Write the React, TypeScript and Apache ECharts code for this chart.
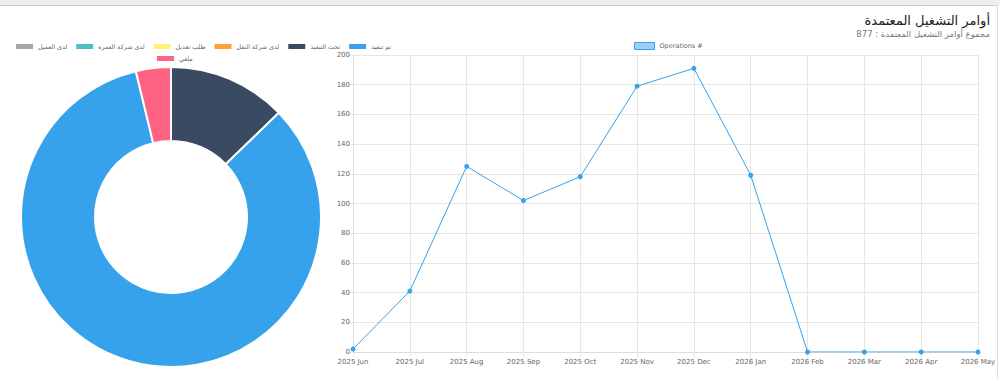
import React, { useEffect, useRef } from "react";
import * as echarts from "echarts";

const title = "أوامر التشغيل المعتمدة";
const subtitle = "مجموع أوامر التشغيل المعتمدة : 877";

const statusNames = [
  "لدى العميل",
  "لدى شركة العمرة",
  "طلب تعديل",
  "لدى شركة النقل",
  "تحت التنفيذ",
  "تم تنفيذ",
  "ملغي",
];
const statusValues = [0, 0, 0, 0, 112, 732, 33];
const statusColors = ["#a4a7ab", "#4bc0c0", "#fff27a", "#ff9f40", "#3b4a63", "#36a2eb", "#ff6384"];

const months = [
  "2025 Jun", "2025 Jul", "2025 Aug", "2025 Sep", "2025 Oct", "2025 Nov",
  "2025 Dec", "2026 Jan", "2026 Feb", "2026 Mar", "2026 Apr", "2026 May",
];
const operations = [2, 41, 125, 102, 118, 179, 191, 119, 0, 0, 0, 0];
const lineName = "Operations #";

export default function App() {
  const ref = useRef<HTMLDivElement>(null);
  useEffect(() => {
    if (!ref.current) return;
    const chart = echarts.init(ref.current, null, { renderer: "svg" });
    const font = "DejaVu Sans";
    chart.setOption({
      animation: false,
      textStyle: { fontFamily: font },
      graphic: [
        { type: "rect", shape: { x: 0, y: 0, width: 1000, height: 5 }, style: { fill: "#eeeeee" }, silent: true },
        { type: "line", shape: { x1: 0, y1: 5.5, x2: 998, y2: 5.5 }, style: { stroke: "#cccccc", lineWidth: 1 }, silent: true },
        { type: "line", shape: { x1: 997.5, y1: 5, x2: 997.5, y2: 378 }, style: { stroke: "#dddddd", lineWidth: 1 }, silent: true },
        {
          type: "text", right: 10, top: 14,
          style: { text: title, fontSize: 13, fill: "#222", fontFamily: font },
        },
        {
          type: "text", right: 10, top: 29,
          style: { text: subtitle, fontSize: 8.5, fill: "#777", fontFamily: font },
        },
      ],
      legend: [
        {
          data: statusNames.slice(0, 6),
          left: 14, top: 42, padding: 0,
          itemWidth: 19, itemHeight: 7, itemGap: 7,
          icon: "rect",
          textStyle: { fontSize: 6.3, color: "#666", fontFamily: font, padding: [0, 0, 0, -1] },
        },
        {
          data: statusNames.slice(6),
          left: 155, top: 54, padding: 0,
          itemWidth: 19, itemHeight: 7,
          icon: "rect",
          textStyle: { fontSize: 6.3, color: "#666", fontFamily: font, padding: [0, 0, 0, -1] },
        },
        {
          data: [lineName],
          left: 634, top: 42, padding: 0,
          itemWidth: 20, itemHeight: 7,
          icon: "rect",
          itemStyle: { color: "rgba(54,162,235,0.5)", borderColor: "#36a2eb", borderWidth: 1 },
          textStyle: { fontSize: 6.5, color: "#666", fontFamily: font },
        },
      ],
      grid: { left: 353, right: 22, top: 55, bottom: 26 },
      xAxis: {
        type: "category",
        data: months,
        boundaryGap: false,
        axisLine: { lineStyle: { color: "#dddddd" } },
        axisTick: { show: true, length: 5, lineStyle: { color: "#e6e6e6" } },
        axisLabel: { fontSize: 7, color: "#666", margin: 6 },
        splitLine: { show: true, lineStyle: { color: "#e6e6e6" } },
      },
      yAxis: {
        type: "value",
        min: 0, max: 200, interval: 20,
        axisLine: { show: true, lineStyle: { color: "#dddddd" } },
        axisTick: { show: true, length: 5, lineStyle: { color: "#e6e6e6" } },
        axisLabel: { fontSize: 7, color: "#666", margin: 3 },
        splitLine: { show: true, lineStyle: { color: "#e6e6e6" } },
      },
      series: [
        {
          type: "pie",
          center: [171, 217],
          radius: [76, 150],
          startAngle: 90,
          clockwise: true,
          label: { show: false },
          labelLine: { show: false },
          itemStyle: { borderColor: "#fff", borderWidth: 2 },
          data: statusNames.map((n, i) => ({ name: n, value: statusValues[i], itemStyle: { color: statusColors[i] } })),
        },
        {
          type: "line",
          name: lineName,
          data: operations,
          symbol: "circle",
          symbolSize: 5,
          itemStyle: { color: "#36a2eb" },
          lineStyle: { color: "#36a2eb", width: 1 },
        },
      ],
    });
    return () => chart.dispose();
  }, []);
  return <div ref={ref} style={{ position: "absolute", left: 0, top: 0, width: 1000, height: 378 }} />;
}
